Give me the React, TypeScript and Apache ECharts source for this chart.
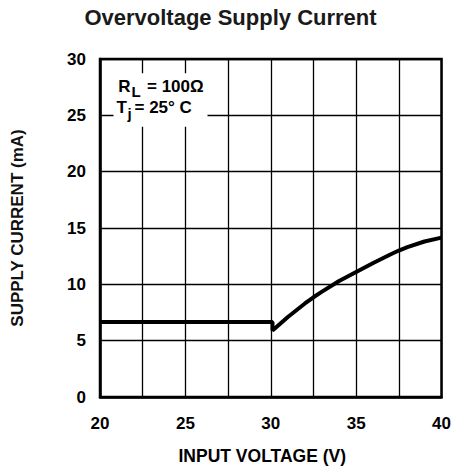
import React, { useEffect, useRef } from "react";
import * as echarts from "echarts";

const titleText = "Overvoltage Supply Current";
const xName = "INPUT VOLTAGE (V)";
const yName = "SUPPLY CURRENT (mA)";
const inputVoltage = [20, 30.1, 30.1, 31, 32, 32.5, 33, 34, 35, 36, 37, 37.5, 38, 39, 40];
const supplyCurrent = [6.65, 6.65, 5.9, 7.1, 8.3, 8.85, 9.35, 10.3, 11.1, 11.9, 12.65, 13.0, 13.3, 13.8, 14.15];
const xTickLabels = [20, 25, 30, 35, 40];

const FONT = "'Liberation Sans', Arial, Helvetica, sans-serif";

export default function App() {
  const ref = useRef<HTMLDivElement>(null);
  useEffect(() => {
    if (!ref.current) return;
    const chart = echarts.init(ref.current, null, { renderer: "svg" });
    const data = inputVoltage.map((v, i) => [v, supplyCurrent[i]]);
    const txt = (text: string, x: number, y: number, size: number) => ({
      type: "text",
      x,
      y,
      z: 101,
      style: {
        text,
        fill: "#000",
        font: `bold ${size}px ${FONT}`,
        textAlign: "left",
        textVerticalAlign: "middle",
      },
    });
    chart.setOption({
      animation: false,
      backgroundColor: "#fff",
      title: {
        text: titleText,
        left: 230.5,
        top: 6,
        padding: 0,
        textAlign: "center",
        textStyle: { fontFamily: FONT, fontWeight: "bold", fontSize: 22, color: "#1a1a1a" },
      },
      grid: {
        left: 100,
        right: 11.3,
        top: 59,
        bottom: 69.3,
        show: true,
        borderColor: "#000",
        borderWidth: 2.5,
        backgroundColor: "transparent",
      },
      xAxis: {
        type: "value",
        min: 20,
        max: 40,
        interval: 2.5,
        name: xName,
        nameLocation: "middle",
        nameGap: 50,
        nameTextStyle: {
          fontFamily: FONT,
          fontWeight: "bold",
          fontSize: 17.5,
          color: "#000",
          padding: [0, 17, 0, 0],
        },
        axisLine: { show: true, lineStyle: { color: "#000", width: 2.5 } },
        axisTick: { show: false },
        axisLabel: {
          margin: 18,
          fontFamily: FONT,
          fontWeight: "bold",
          fontSize: 17,
          color: "#000",
          formatter: (v: number) => (xTickLabels.includes(v) ? String(v) : ""),
        },
        splitLine: { show: true, lineStyle: { color: "#000", width: 1.3 } },
      },
      yAxis: {
        type: "value",
        min: 0,
        max: 30,
        interval: 5,
        name: yName,
        nameLocation: "middle",
        nameGap: 74,
        nameTextStyle: { fontFamily: FONT, fontWeight: "bold", fontSize: 17, color: "#111" },
        axisLine: { show: true, lineStyle: { color: "#000", width: 2.5 } },
        axisTick: { show: false },
        axisLabel: { margin: 14, fontFamily: FONT, fontWeight: "bold", fontSize: 17, color: "#000" },
        splitLine: { show: true, lineStyle: { color: "#000", width: 1.3 } },
      },
      graphic: [
        {
          type: "rect",
          z: 100,
          shape: { x: 113.5, y: 73.3, width: 94, height: 53.4 },
          style: { fill: "#fff" },
        },
        txt("R", 118.3, 86.2, 17),
        txt("L", 131.5, 91.5, 15),
        txt("= 100Ω", 147, 86.2, 17),
        txt("T", 116.5, 107.8, 17),
        txt("j", 127.5, 113, 15),
        txt("= 25° C", 134.5, 107.8, 17),
      ],
      series: [
        {
          type: "line",
          data,
          showSymbol: false,
          symbol: "none",
          lineStyle: { color: "#000", width: 4 },
          z: 5,
        },
      ],
    });
    return () => chart.dispose();
  }, []);
  return (
    <div
      ref={ref}
      style={{ position: "absolute", left: 0, top: 0, width: 454, height: 470 }}
    />
  );
}
